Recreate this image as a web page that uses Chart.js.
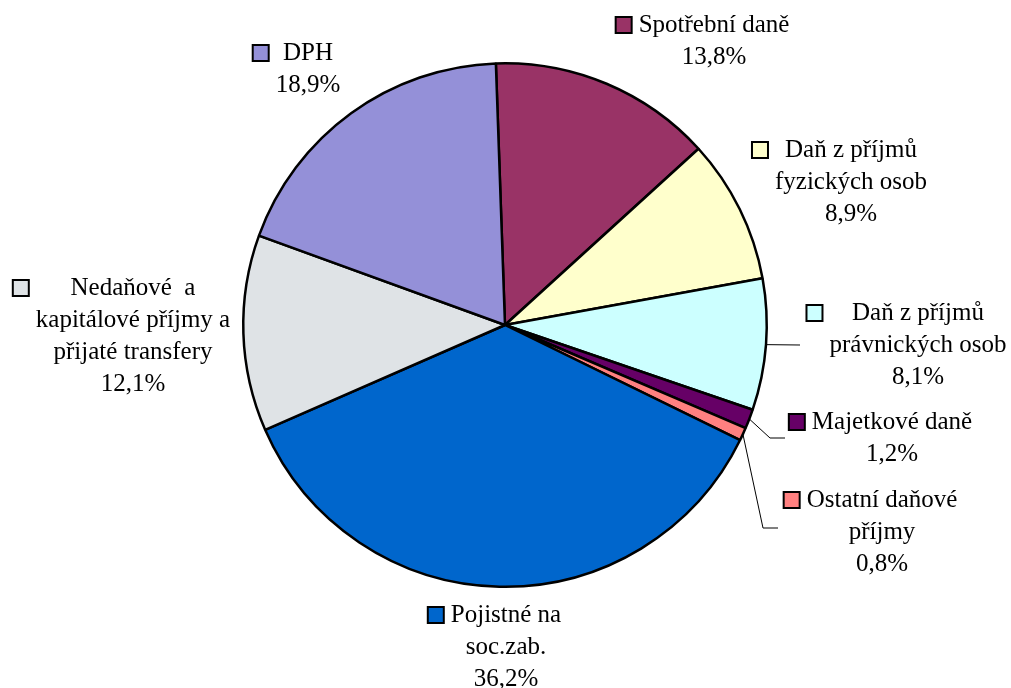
<!DOCTYPE html>
<html>
<head>
<meta charset="utf-8">
<script src="https://cdn.jsdelivr.net/npm/chart.js@4"></script>
<style>
  body { margin: 0; background: #fff; }
  canvas { display: block; }
</style>
</head>
<body>
<canvas id="myChart" width="1011" height="688"></canvas>
<script>
// categories (label text split into lines as in the picture)
const categories = [
    ['Spotřební daně'],
    ['Daň z příjmů', 'fyzických osob'],
    ['Daň z příjmů', 'právnických osob'],
    ['Majetkové daně'],
    ['Ostatní daňové', 'příjmy'],
    ['Pojistné na', 'soc.zab.'],
    ['Nedaňové  a', 'kapitálové příjmy a', 'přijaté transfery'],
    ['DPH']
];
const shares = [13.8, 8.9, 8.1, 1.2, 0.8, 36.2, 12.1, 18.9];
const colors = ['#993366', '#FFFFCC', '#CCFFFF', '#660066', '#FF8080', '#0066CC', '#DFE3E6', '#9490D8'];

// where each label block sits (text centre x, first line centre y) and optional leader line
const labelPos = [
    { x: 714, y: 25 },
    { x: 851, y: 150 },
    { x: 918, y: 313, leader: [[800, 345]] },
    { x: 892, y: 422, leader: [[770, 438], [785, 438]] },
    { x: 882, y: 500, leader: [[763, 528], [778, 528]] },
    { x: 506, y: 615 },
    { x: 133, y: 288 },
    { x: 308, y: 53 }
];

const fmt = v => v.toFixed(1).replace('.', ',') + '%';

const labelPlugin = {
    id: 'sliceLabels',
    afterDatasetsDraw(chart) {
        const ctx = chart.ctx;
        const meta = chart.getDatasetMeta(0);
        ctx.save();
        ctx.font = '25px "Liberation Serif", "Times New Roman", serif';
        ctx.textAlign = 'center';
        ctx.textBaseline = 'middle';
        meta.data.forEach((arc, i) => {
            const pos = labelPos[i];
            // leader line from the middle of the slice edge
            if (pos.leader) {
                const mid = (arc.startAngle + arc.endAngle) / 2;
                ctx.beginPath();
                ctx.moveTo(arc.x + Math.cos(mid) * arc.outerRadius, arc.y + Math.sin(mid) * arc.outerRadius);
                pos.leader.forEach(p => ctx.lineTo(p[0], p[1]));
                ctx.strokeStyle = '#000';
                ctx.lineWidth = 1;
                ctx.stroke();
            }
            const lines = categories[i].concat([fmt(shares[i])]);
            let maxW = 0;
            lines.forEach(l => { maxW = Math.max(maxW, ctx.measureText(l).width); });
            ctx.fillStyle = '#000';
            lines.forEach((l, k) => ctx.fillText(l, pos.x, pos.y + k * 32));
            // legend key square
            const sx = pos.x - maxW / 2 - 23;
            ctx.fillStyle = colors[i];
            ctx.fillRect(sx, pos.y - 8, 16, 16);
            ctx.strokeStyle = '#000';
            ctx.lineWidth = 2;
            ctx.strokeRect(sx, pos.y - 8, 16, 16);
        });
        ctx.restore();
    }
};

const ctx = document.getElementById('myChart');
const myChart = new Chart(ctx, {
    type: 'pie',
    data: {
        labels: categories.map(c => c.join(' ')),
        datasets: [{
            data: shares,
            backgroundColor: colors,
            borderColor: '#000',
            borderWidth: 2.5
        }]
    },
    options: {
        responsive: false,
        animation: false,
        rotation: -2,
        layout: { padding: { top: 62, bottom: 100, left: 0, right: 1 } },
        plugins: {
            legend: { display: false },
            tooltip: { enabled: false }
        }
    },
    plugins: [labelPlugin]
});
</script>
</body>
</html>
